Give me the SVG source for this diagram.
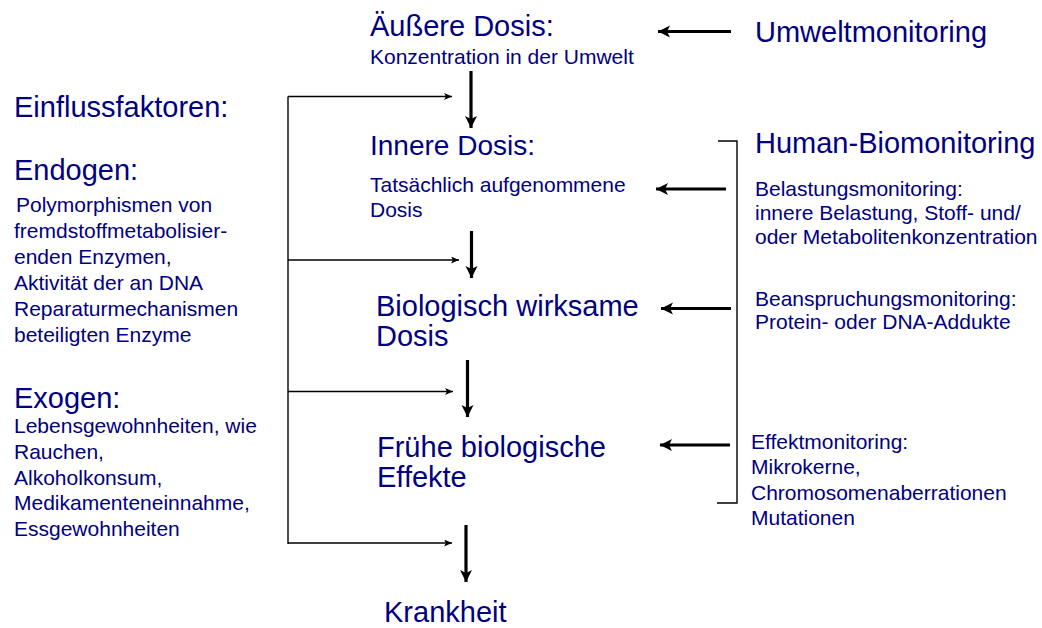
<svg xmlns="http://www.w3.org/2000/svg" width="1042" height="628" viewBox="0 0 1042 628">
<style>
text{font-family:"Liberation Sans",Arial,sans-serif;fill:#000080}
.big{font-size:29px}
.mid{font-size:28px}
.sm{font-size:21px}
.thick{stroke:#000;stroke-width:3.2;fill:none}
.thin{stroke:#000;stroke-width:1.4;fill:none}
</style>
<defs>
<marker id="ah" markerUnits="userSpaceOnUse" markerWidth="14" markerHeight="14" refX="12" refY="6" orient="auto">
<path d="M0,0 L12,6 L0,12 L3,6 Z" fill="#000"/>
</marker>
<marker id="ahs" markerUnits="userSpaceOnUse" markerWidth="10" markerHeight="8" refX="8" refY="3.5" orient="auto">
<path d="M0,0 L8,3.5 L0,7 L2,3.5 Z" fill="#000"/>
</marker>
</defs>
<rect width="1042" height="628" fill="#fff"/>

<g id="connectors">
<line class="thick" x1="731" y1="31.5" x2="658" y2="31.5" marker-end="url(#ah)"/>
<line class="thick" x1="471" y1="71" x2="471" y2="128" marker-end="url(#ah)"/>
<line class="thick" x1="471.5" y1="231" x2="471.5" y2="278" marker-end="url(#ah)"/>
<line class="thick" x1="467.5" y1="360" x2="467.5" y2="417" marker-end="url(#ah)"/>
<line class="thick" x1="466" y1="525" x2="466" y2="582" marker-end="url(#ah)"/>
<line class="thick" x1="726" y1="189" x2="656" y2="189" marker-end="url(#ah)"/>
<line class="thick" x1="731" y1="308.5" x2="661" y2="308.5" marker-end="url(#ah)"/>
<line class="thick" x1="730" y1="445" x2="660" y2="445" marker-end="url(#ah)"/>
<path class="thin" d="M288,96.5 V544"/>
<line class="thin" x1="288" y1="96.5" x2="452" y2="96.5" marker-end="url(#ahs)"/>
<line class="thin" x1="288" y1="260" x2="459" y2="260" marker-end="url(#ahs)"/>
<line class="thin" x1="288" y1="391.5" x2="453" y2="391.5" marker-end="url(#ahs)"/>
<line class="thin" x1="288" y1="543" x2="452" y2="543" marker-end="url(#ahs)"/>
<path class="thin" d="M718,141 H737 V503 H717"/>
</g>

<g id="aeussere-dosis">
<text class="big" x="370" y="36">Äußere Dosis:</text>
<text class="sm" x="370" y="64">Konzentration in der Umwelt</text>
</g>
<g id="innere-dosis">
<text class="mid" x="370" y="155">Innere Dosis:</text>
<text class="sm" x="370" y="192">Tatsächlich aufgenommene</text>
<text class="sm" x="370" y="217">Dosis</text>
</g>
<g id="biologisch-wirksame-dosis">
<text class="big" x="376" y="316">Biologisch wirksame</text>
<text class="big" x="376" y="346">Dosis</text>
</g>
<g id="fruehe-effekte">
<text class="big" x="377" y="457">Frühe biologische</text>
<text class="big" x="377" y="487">Effekte</text>
</g>
<g id="krankheit">
<text class="big" x="384" y="622">Krankheit</text>
</g>

<g id="umweltmonitoring">
<text class="big" x="755" y="42">Umweltmonitoring</text>
</g>
<g id="human-biomonitoring">
<text class="big" x="755" y="153">Human-Biomonitoring</text>
</g>
<g id="belastungsmonitoring">
<text class="sm" x="755" y="196">Belastungsmonitoring:</text>
<text class="sm" x="755" y="220">innere Belastung, Stoff- und/</text>
<text class="sm" x="755" y="244">oder Metabolitenkonzentration</text>
</g>
<g id="beanspruchungsmonitoring">
<text class="sm" x="755" y="306">Beanspruchungsmonitoring:</text>
<text class="sm" x="755" y="329">Protein- oder DNA-Addukte</text>
</g>
<g id="effektmonitoring">
<text class="sm" x="751" y="449">Effektmonitoring:</text>
<text class="sm" x="751" y="474">Mikrokerne,</text>
<text class="sm" x="751" y="500">Chromosomenaberrationen</text>
<text class="sm" x="751" y="525">Mutationen</text>
</g>

<g id="einflussfaktoren">
<text class="big" x="14" y="117">Einflussfaktoren:</text>
</g>
<g id="endogen">
<text class="big" x="14" y="180">Endogen:</text>
<text class="sm" x="16" y="212">Polymorphismen von</text>
<text class="sm" x="14" y="238">fremdstoffmetabolisier-</text>
<text class="sm" x="14" y="264">enden Enzymen,</text>
<text class="sm" x="14" y="290">Aktivität der an DNA</text>
<text class="sm" x="14" y="316">Reparaturmechanismen</text>
<text class="sm" x="14" y="342">beteiligten Enzyme</text>
</g>
<g id="exogen">
<text class="big" x="14" y="408">Exogen:</text>
<text class="sm" x="14" y="433">Lebensgewohnheiten, wie</text>
<text class="sm" x="14" y="459">Rauchen,</text>
<text class="sm" x="14" y="485">Alkoholkonsum,</text>
<text class="sm" x="14" y="510">Medikamenteneinnahme,</text>
<text class="sm" x="14" y="536">Essgewohnheiten</text>
</g>
</svg>
